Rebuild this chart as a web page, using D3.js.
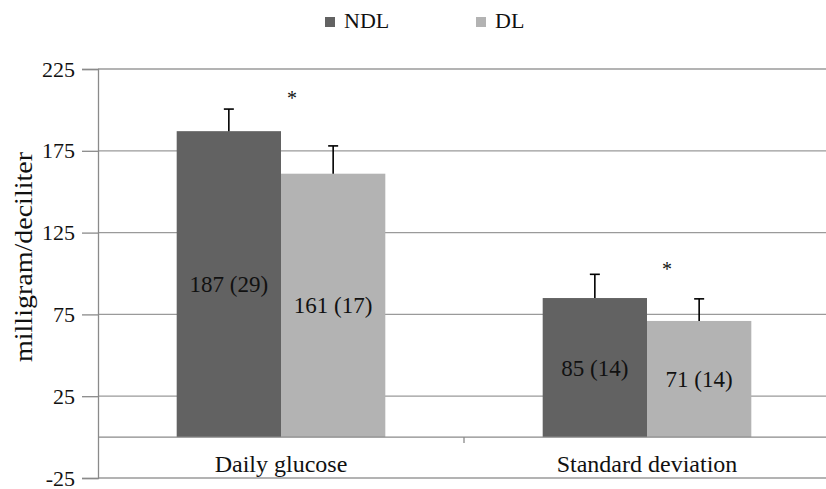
<!DOCTYPE html>
<html>
<head>
<meta charset="utf-8">
<script src="https://cdn.jsdelivr.net/npm/d3@7"></script>
<style>
  body { margin: 0; background: #fff; }
  svg text { font-family: "Liberation Serif", "DejaVu Serif", "Times New Roman", serif; }
</style>
</head>
<body>
<svg></svg>
<script>
"use strict";

// Data
const categories = ["Daily glucose", "Standard deviation"];
const series = ["NDL", "DL"];
const means = { NDL: [187, 85], DL: [161, 71] };
const sds = { NDL: [29, 14], DL: [17, 14] };
const errBars = { NDL: [13.5, 14.5], DL: [17, 13.5] };
const starValues = [209, 104.5];
const yTicks = [-25, 25, 75, 125, 175, 225];
const colors = { NDL: "#626262", DL: "#b3b3b3" };

// Sizes
const W = 826, H = 489;
const plot = { l: 98, r: 830, t: 69, b: 478 };

const svg = d3.select("svg")
  .attr("width", W)
  .attr("height", H);

// Scales
const yScale = d3.scaleLinear()
  .domain([-25, 225])
  .range([plot.b, plot.t]);

const x0 = d3.scaleBand()
  .domain(categories)
  .range([plot.l, plot.r])
  .padding(0);

const groupW = x0.bandwidth() * 0.57;
const x1 = d3.scaleBand()
  .domain(series)
  .range([(x0.bandwidth() - groupW) / 2, (x0.bandwidth() + groupW) / 2]);

// Gridlines
svg.append("g")
  .selectAll("line")
  .data(yTicks)
  .join("line")
    .attr("x1", plot.l)
    .attr("x2", W)
    .attr("y1", d => yScale(d))
    .attr("y2", d => yScale(d))
    .attr("stroke", "#9a9a9a")
    .attr("stroke-width", 1.3);

// Y axis
const yAxis = svg.append("g")
  .attr("transform", `translate(${plot.l}, 0)`)
  .call(d3.axisLeft(yScale)
    .tickValues(yTicks)
    .tickFormat(d => String(d))
    .tickSize(16)
    .tickPadding(7));
yAxis.attr("font-family", null);
yAxis.select(".domain").attr("stroke", "#8a8a8a").attr("stroke-width", 1.3);
yAxis.selectAll(".tick line").attr("stroke", "#8a8a8a").attr("stroke-width", 1.3);
yAxis.selectAll(".tick text")
  .attr("font-size", 22)
  .attr("fill", "#111");

// Y title
svg.append("text")
  .attr("transform", `translate(32, 257) rotate(-90)`)
  .attr("text-anchor", "middle")
  .attr("font-size", 25)
  .attr("textLength", 210)
  .attr("lengthAdjust", "spacingAndGlyphs")
  .attr("fill", "#111")
  .text("milligram/deciliter");

// Bars
const rows = [];
categories.forEach((c, i) => {
  series.forEach(s => {
    rows.push({ cat: c, s, v: means[s][i], sd: sds[s][i], err: errBars[s][i] });
  });
});

const bx = d => x0(d.cat) + x1(d.s);

svg.append("g")
  .selectAll("rect")
  .data(rows)
  .join("rect")
    .attr("x", bx)
    .attr("width", x1.bandwidth())
    .attr("y", d => yScale(d.v))
    .attr("height", d => yScale(0) - yScale(d.v))
    .attr("fill", d => colors[d.s]);

// Category axis (zero line)
const xAxis = svg.append("g")
  .attr("transform", `translate(0, ${yScale(0)})`);
xAxis.append("line")
  .attr("x1", plot.l)
  .attr("x2", W)
  .attr("stroke", "#8a8a8a")
  .attr("stroke-width", 1.3);
xAxis.selectAll("line.sep")
  .data(categories.slice(1))
  .join("line")
    .attr("class", "sep")
    .attr("x1", d => x0(d))
    .attr("x2", d => x0(d))
    .attr("y1", 0)
    .attr("y2", 6)
    .attr("stroke", "#8a8a8a")
    .attr("stroke-width", 1.3);

svg.append("g")
  .selectAll("text")
  .data(categories)
  .join("text")
    .attr("x", d => x0(d) + x0.bandwidth() / 2)
    .attr("y", 472)
    .attr("text-anchor", "middle")
    .attr("font-size", 24)
    .attr("fill", "#111")
    .text(d => d);

// Error bars
const eb = svg.append("g")
  .attr("stroke", "#000")
  .attr("stroke-width", 1.6);
eb.selectAll("line.v")
  .data(rows)
  .join("line")
    .attr("class", "v")
    .attr("x1", d => bx(d) + x1.bandwidth() / 2)
    .attr("x2", d => bx(d) + x1.bandwidth() / 2)
    .attr("y1", d => yScale(d.v))
    .attr("y2", d => yScale(d.v + d.err));
eb.selectAll("line.cap")
  .data(rows)
  .join("line")
    .attr("class", "cap")
    .attr("x1", d => bx(d) + x1.bandwidth() / 2 - 5)
    .attr("x2", d => bx(d) + x1.bandwidth() / 2 + 5)
    .attr("y1", d => yScale(d.v + d.err))
    .attr("y2", d => yScale(d.v + d.err));

// Bar labels
svg.append("g")
  .selectAll("text")
  .data(rows)
  .join("text")
    .attr("x", d => bx(d) + x1.bandwidth() / 2)
    .attr("y", d => (yScale(d.v) + yScale(0)) / 2)
    .attr("dy", "0.35em")
    .attr("text-anchor", "middle")
    .attr("font-size", 23)
    .attr("fill", "#111")
    .text(d => `${d.v} (${d.sd})`);

// Significance markers
const starOffsets = [11, 20];
svg.append("g")
  .selectAll("text")
  .data(categories)
  .join("text")
    .attr("x", (d, i) => x0(d) + x0.bandwidth() / 2 + starOffsets[i])
    .attr("y", (d, i) => yScale(starValues[i]) + 10)
    .attr("text-anchor", "middle")
    .attr("font-size", 20)
    .attr("fill", "#111")
    .text("*");

// Legend
const legendX = [325, 476];
const legend = svg.append("g");
series.forEach((s, i) => {
  legend.append("rect")
    .attr("x", legendX[i])
    .attr("y", 17)
    .attr("width", 10)
    .attr("height", 10)
    .attr("fill", colors[s]);
  legend.append("text")
    .attr("x", legendX[i] + 19)
    .attr("y", 28)
    .attr("font-size", 22)
    .attr("fill", "#111")
    .text(s);
});
</script>
</body>
</html>
